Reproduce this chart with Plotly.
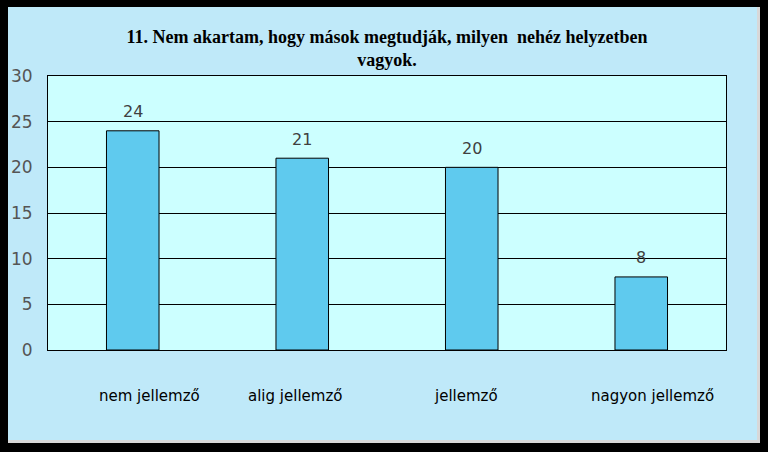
import plotly.graph_objects as go

categories = ["nem jellemző", "alig jellemző", "jellemző", "nagyon jellemző"]
values = [24, 21, 20, 8]
y_ticks = [0, 5, 10, 15, 20, 25, 30]
title_text = "11. Nem akartam, hogy mások megtudják, milyen  nehéz helyzetben<br>vagyok."
label_shifts = [17, -7, -6, 11]

fig = go.Figure()
fig.add_trace(go.Bar(
    x=categories, y=values,
    width=0.31,
    marker=dict(color="#5FCAEE", line=dict(color="black", width=1)),
))

for cat, v in zip(categories, values):
    fig.add_annotation(x=cat, y=v, xref="x", yref="y", text=str(v),
                       showarrow=False, yshift=19,
                       font=dict(family="DejaVu Sans", size=16, color="#404040"))

for cat, sh in zip(categories, label_shifts):
    fig.add_annotation(x=cat, y=-0.16, xref="x", yref="paper", text=cat,
                       showarrow=False, xshift=sh, yshift=-13,
                       font=dict(family="DejaVu Sans", size=15, color="black"))

W, H = 768, 452
L, R, T, B = 48, 42, 76, 102
pw, ph = W - L - R, H - T - B

def px(x):
    return (x - L) / pw

def py(y):
    return (H - B - y) / ph

# black frame around the light-blue panel, grey inner edge right/bottom
frame = [
    (0, 0, 8, H, "black"),
    (0, 0, W, 7, "black"),
    (760, 0, W, H, "black"),
    (0, 443, W, H, "black"),
    (757, 7, 760, 443, "#D8D8D8"),
    (8, 440, 760, 443, "#D8D8D8"),
]
for x0, y0, x1, y1, c in frame:
    fig.add_shape(type="rect", xref="paper", yref="paper", layer="above",
                  x0=px(x0), x1=px(x1), y0=py(y1), y1=py(y0),
                  fillcolor=c, line=dict(width=0))

fig.update_layout(
    width=W, height=H,
    margin=dict(l=L, r=R, t=T, b=B),
    paper_bgcolor="#BFE9F9",
    plot_bgcolor="#CCFFFF",
    showlegend=False,
    title=dict(text=title_text, x=0.5, xref="paper", xanchor="center",
               y=1 - 43/452, yanchor="middle",
               font=dict(family="Liberation Serif", size=18, color="black", weight="bold")),
    xaxis=dict(showticklabels=False, showgrid=False, ticks="",
               range=[-0.5, 3.5], showline=True, mirror=True,
               linecolor="black", linewidth=1),
    yaxis=dict(range=[0, 30], tickvals=y_ticks, showgrid=True, gridcolor="black",
               gridwidth=1, zeroline=False, showline=True, mirror=True,
               linecolor="black", linewidth=1, ticks="", ticklabelstandoff=11,
               automargin=False,
               tickfont=dict(family="DejaVu Sans", size=17, color="#555555")),
)

fig.write_html("out.html")
